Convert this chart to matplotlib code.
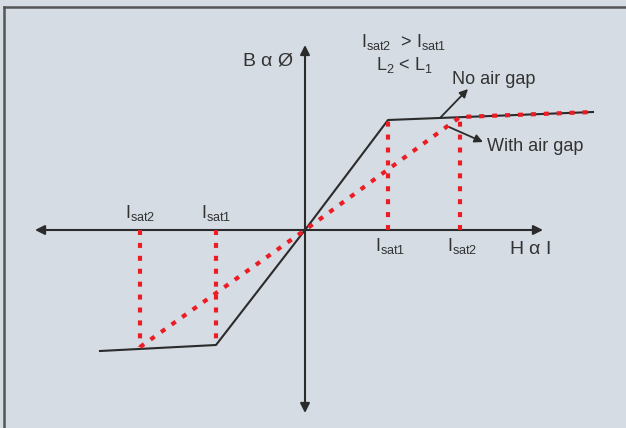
import matplotlib
matplotlib.use('Agg')
import matplotlib.pyplot as plt
from matplotlib.lines import Line2D

plt.rcParams['font.family'] = ['Liberation Sans', 'DejaVu Sans']
plt.rcParams['mathtext.fontset'] = 'custom'
plt.rcParams['mathtext.rm'] = 'Liberation Sans'
plt.rcParams['mathtext.it'] = 'Liberation Sans'

# B-H curves (H along x, B along y, origin at axis crossing)
no_gap_H = [-205, -89, 0, 83, 288]
no_gap_B = [-121, -115, 0, 110, 118]
gap_H = [-165, 0, 155, 288]
gap_B = [-117, 0, 113, 118]

# saturation points (H, B) where the vertical guides drop to the H axis
sat_H = [-165, -89, 83, 155]
sat_B = [-117, -115, 110, 113]
sat_labels = [r'I$_{\mathrm{sat2}}$', r'I$_{\mathrm{sat1}}$', r'I$_{\mathrm{sat1}}$', r'I$_{\mathrm{sat2}}$']

bg = '#d5dce3'
ink = '#2b2b2b'
txt = '#333333'
red = '#ec1c24'

fig = plt.figure(figsize=(6.26, 4.28), dpi=100, facecolor=bg)
ax = fig.add_axes([0, 0, 1, 1])
ax.set_facecolor(bg)
ax.set_xlim(-305, 321)
ax.set_ylim(-198, 230)
ax.axis('off')

# axes with arrow heads
ax.annotate('', xy=(238, 0), xytext=(-270, 0),
            arrowprops=dict(arrowstyle='<|-|>', color=ink, lw=1.5, mutation_scale=14, shrinkA=0, shrinkB=0))
ax.annotate('', xy=(0, 185), xytext=(0, -183),
            arrowprops=dict(arrowstyle='<|-|>', color=ink, lw=1.5, mutation_scale=14, shrinkA=0, shrinkB=0))

# guides
dash = (0, (1.2, 1.9))
for h, b in zip(sat_H, sat_B):
    ax.plot([h, h], [0, b], color=red, lw=3, linestyle=dash, zorder=3)

ax.plot(no_gap_H, no_gap_B, color=ink, lw=1.5, zorder=2)
ax.plot(gap_H, gap_B, color=red, lw=3, linestyle=dash, zorder=4)

# saturation labels
for h, lab in zip(sat_H, sat_labels):
    if h < 0:
        ax.text(h, 7, lab, ha='center', va='bottom', fontsize=13, color=txt)
    else:
        ax.text(h + 2, -6, lab, ha='center', va='top', fontsize=13, color=txt)

ax.text(-37, 169, r'B $\alpha$ Ø', ha='center', va='center', fontsize=14, color=txt)
ax.text(225, -20, r'H $\alpha$ I', ha='center', va='center', fontsize=14, color=txt)
ax.text(99, 188, r'I$_{\mathrm{sat2}}$  > I$_{\mathrm{sat1}}$', ha='center', va='center', fontsize=13, color=txt)
ax.text(99, 165, r'L$_{2}$ < L$_{1}$', ha='center', va='center', fontsize=13, color=txt)

arrow = dict(arrowstyle='-|>', color=ink, lw=1.3, mutation_scale=12, shrinkA=0, shrinkB=0)
ax.annotate('', xy=(163, 141), xytext=(135, 112), arrowprops=arrow)
ax.text(147, 151, 'No air gap', fontsize=13, color=txt, ha='left', va='center')
ax.annotate('', xy=(178, 88), xytext=(144, 103), arrowprops=arrow)
ax.text(182, 84, 'With air gap', fontsize=13, color=txt, ha='left', va='center')

# frame lines on top and left
fig.add_artist(Line2D([0.007, 1], [0.983, 0.983], color='#555555', lw=1.8, transform=fig.transFigure))
fig.add_artist(Line2D([0.007, 0.007], [0, 0.983], color='#555555', lw=1.8, transform=fig.transFigure))

fig.savefig('out.png', dpi=100, facecolor=bg)
